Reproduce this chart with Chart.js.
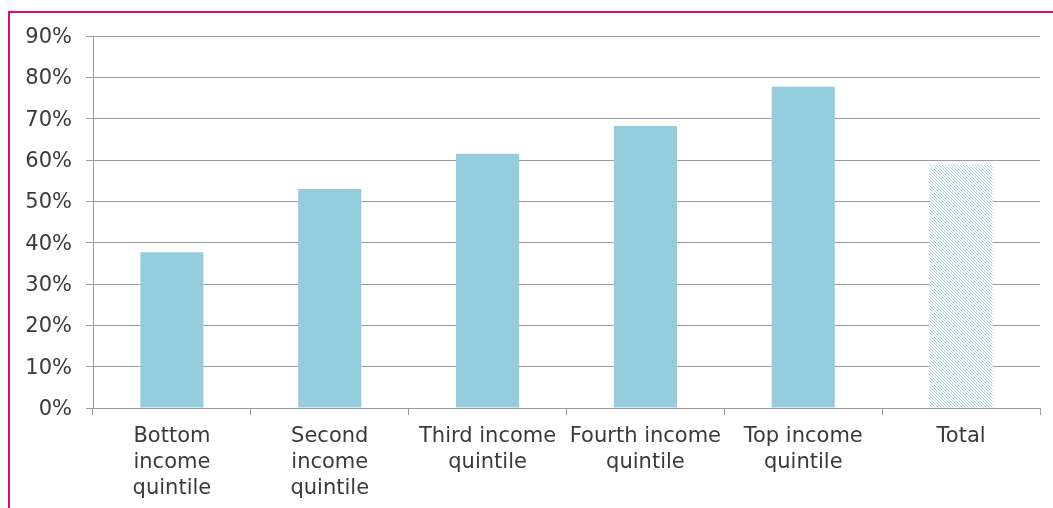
<!DOCTYPE html>
<html>
<head>
<meta charset="utf-8">
<script src="https://cdn.jsdelivr.net/npm/chart.js@4/dist/chart.umd.min.js"></script>
<style>
    html, body { margin: 0; padding: 0; background: #ffffff; overflow: hidden; }
    #shareChart { display: block; }
</style>
</head>
<body>
<canvas id="shareChart" width="1053" height="508"></canvas>
<script>
const quintiles = [
    ["Bottom", "income", "quintile"],
    ["Second", "income", "quintile"],
    ["Third income", "quintile"],
    ["Fourth income", "quintile"],
    ["Top income", "quintile"],
    "Total"
];
const shares = [37.7, 53.0, 61.5, 68.2, 77.7, 58.8];
const yTicks = [0, 10, 20, 30, 40, 50, 60, 70, 80, 90];

const barBlue = "#96cddd";
const gridGrey = "#9b9b9b";
const textColor = "#3a3a3a";

// diagonal hatch for the total bar
function hatchPattern() {
    const tile = document.createElement("canvas");
    tile.width = 3;
    tile.height = 3;
    const t = tile.getContext("2d");
    t.fillStyle = "#ffffff";
    t.fillRect(0, 0, 3, 3);
    t.fillStyle = "#a8d7e5";
    for (let i = 0; i < 3; i++) {
        t.fillRect(i, i, 1, 1);
    }
    return t.createPattern(tile, "repeat");
}

let barColors = [];
for (let i = 0; i < shares.length; i++) {
    barColors.push(i === shares.length - 1 ? hatchPattern() : barBlue);
}

// pink frame round the figure
const framePlugin = {
    id: "frame",
    afterDraw(chart) {
        const c = chart.ctx;
        c.save();
        c.strokeStyle = "#ea0a6c";
        c.lineWidth = 2;
        c.beginPath();
        c.moveTo(9, chart.height + 5);
        c.lineTo(9, 12);
        c.lineTo(chart.width + 5, 12);
        c.stroke();
        c.restore();
    }
};

Chart.defaults.font.family = "'DejaVu Sans', sans-serif";
Chart.defaults.font.size = 21;
Chart.defaults.color = textColor;

var ctx = document.getElementById("shareChart");

var shareChart = new Chart(ctx, {
    type: "bar",
    data: {
        labels: quintiles,
        datasets: [{
            data: shares,
            backgroundColor: barColors,
            borderWidth: 0,
            categoryPercentage: 1,
            barPercentage: 0.4
        }]
    },
    options: {
        responsive: false,
        animation: false,
        layout: { padding: { left: 0, right: 13, top: 36, bottom: 0 } },
        plugins: {
            legend: false,
            tooltip: false
        },
        scales: {
            x: {
                offset: true,
                grid: {
                    offset: true,
                    drawOnChartArea: false,
                    drawTicks: true,
                    tickLength: 7,
                    color: gridGrey
                },
                border: { color: gridGrey },
                ticks: {
                    padding: 9,
                    maxRotation: 0,
                    autoSkip: false,
                    font: { lineHeight: 1.22 }
                },
                afterFit(scale) { scale.height = 100; }
            },
            y: {
                min: 0,
                max: 90,
                afterBuildTicks(scale) {
                    scale.ticks = yTicks.map(v => ({ value: v }));
                },
                grid: {
                    color: gridGrey,
                    tickLength: 7
                },
                border: { color: gridGrey },
                ticks: {
                    padding: 14,
                    labelOffset: 1.5,
                    callback: v => v + "%"
                },
                afterFit(scale) { scale.width = 93; }
            }
        }
    },
    plugins: [framePlugin]
});
</script>
</body>
</html>
